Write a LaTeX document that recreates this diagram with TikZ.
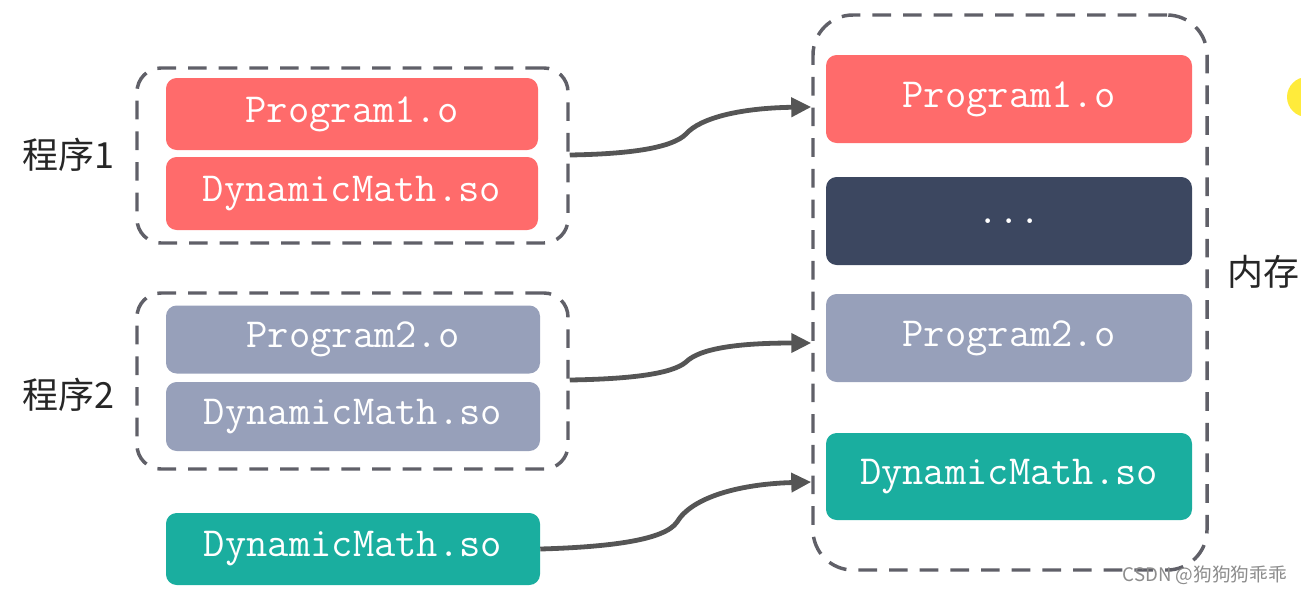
\documentclass[tikz,border=0pt]{standalone}
\usepackage{fontspec}
\newfontfamily\cjk{Noto Sans CJK SC}
\usetikzlibrary{arrows.meta}
\definecolor{cred}{HTML}{FF6B6B}
\definecolor{cslate}{HTML}{97A0BA}
\definecolor{cteal}{HTML}{1AAE9F}
\definecolor{cdark}{HTML}{3C4760}
\definecolor{cdash}{HTML}{606068}
\definecolor{carrow}{HTML}{555555}
\definecolor{cyel}{HTML}{FFEB3B}
\tikzset{
  bx/.style n args={3}{draw=none, fill=#1, rounded corners=8pt, minimum width=#2*0.75pt, minimum height=#3*0.75pt, inner sep=0pt, text=white, font=\ttfamily\fontsize{31}{31}\selectfont},
  grp/.style n args={2}{draw=cdash, line width=2.6pt, dash pattern=on 14pt off 9pt, rounded corners=18pt, minimum width=#1*0.75pt, minimum height=#2*0.75pt, inner sep=0pt},
  lbl/.style={font=\cjk\fontsize{27}{27}\selectfont, text=black!85, inner sep=0pt},
  conn/.style={draw=carrow, line width=3.6pt, -{Triangle[length=15pt,width=14pt]}}
}
\begin{document}
\begin{tikzpicture}[x=0.75pt,y=-0.75pt]
\useasboundingbox (0,0) rectangle (1301,593);
\begin{scope}
\clip (0,0) rectangle (1301,593);
\fill[cyel] (1307,97) circle (20);
\end{scope}
% left groups
\node[grp={431}{175}] (g1) at (352.5,155.5) {};
\node[bx={cred}{372}{72}] (p1o) at (352,114) {Program1.o};
\node[bx={cred}{372}{73}] (p1d) at (352,193.5) {DynamicMath.so};
\node[lbl] (l1) at (68,155) {程序1};
\node[grp={431}{176}] (g2) at (352.5,381) {};
\node[bx={cslate}{374}{68}] (p2o) at (353,339.5) {Program2.o};
\node[bx={cslate}{374}{69}] (p2d) at (353,416.5) {DynamicMath.so};
\node[lbl] (l2) at (68,395) {程序2};
\node[bx={cteal}{374}{72}] (so) at (353,549) {DynamicMath.so};
% memory
\node[grp={394}{555}, rounded corners=30pt] (mem) at (1010,292.5) {};
\node[bx={cred}{366}{88}] (m1) at (1009,99) {Program1.o};
\node[bx={cdark}{366}{88}] (m2) at (1009,221) {...};
\node[bx={cslate}{366}{88}] (m3) at (1009,338) {Program2.o};
\node[bx={cteal}{366}{87}] (m4) at (1009,476.5) {DynamicMath.so};
\node[lbl] (l3) at (1263,272) {内存};
% connectors
\coordinate (e1) at (mem.west |- 0,107);
\coordinate (e2) at (mem.west |- 0,343);
\coordinate (e3) at (mem.west |- 0,482);
\draw[conn] (g1.east |- 0,155) .. controls (630,154) and (672,148) .. (686,134) .. controls (700,118) and (740,108) .. (e1);
\draw[conn] (g2.east |- 0,380) .. controls (630,379) and (672,374) .. (686,362) .. controls (700,348) and (740,343) .. (e2);
\draw[conn] (so.east) .. controls (610,547) and (665,540) .. (677,522) .. controls (692,497) and (740,484) .. (e3);
% watermark
\node[font=\cjk\fontsize{14}{14}\selectfont, text=black!45, anchor=east, inner sep=0pt] (wm) at (1287,575) {CSDN @狗狗狗乖乖};
\end{tikzpicture}
\end{document}
